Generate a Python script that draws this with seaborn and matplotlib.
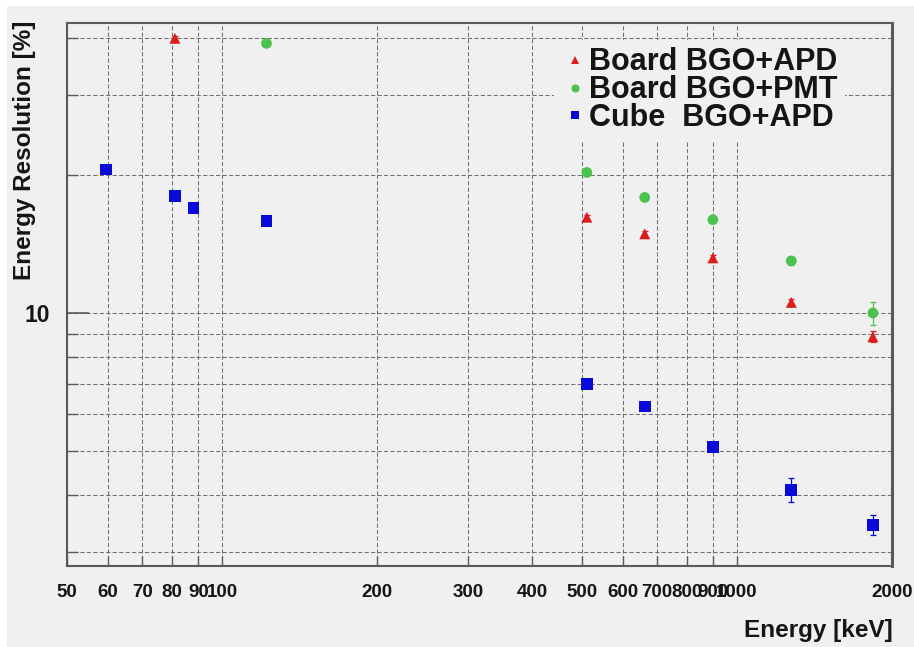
import matplotlib
matplotlib.use("Agg")
import matplotlib.pyplot as plt
import numpy as np
import pandas as pd
import seaborn as sns
from matplotlib.patches import Rectangle
from matplotlib.ticker import FixedLocator, FixedFormatter, NullFormatter

# Gamma-line energies [keV] and measured energy resolutions (FWHM) [%]
board_apd_energy = [81, 511, 662, 898, 1275, 1836]
board_apd_res = [39.9, 16.2, 14.9, 13.2, 10.55, 8.87]
board_apd_err = [0.4, 0.2, 0.2, 0.2, 0.2, 0.25]

board_pmt_energy = [122, 511, 662, 898, 1275, 1836]
board_pmt_res = [38.9, 20.3, 17.9, 16.0, 13.0, 10.0]
board_pmt_err = [0.4, 0.25, 0.2, 0.2, 0.25, 0.58]

cube_apd_energy = [59.5, 81, 88, 122, 511, 662, 898, 1275, 1836]
cube_apd_res = [20.6, 18.0, 17.0, 15.9, 6.98, 6.24, 5.09, 4.10, 3.44]
cube_apd_err = [0.2, 0.2, 0.2, 0.2, 0.1, 0.1, 0.08, 0.25, 0.17]

series_names = ["Board BGO+APD", "Board BGO+PMT", "Cube  BGO+APD"]
series_colors = ["#dd1c1c", "#4cc24c", "#0a0ad8"]
series_markers = ["^", "o", "s"]
series_sizes = [62, 60, 72]

x_tick_values = [50, 60, 70, 80, 90, 100, 200, 300, 400, 500, 600, 700, 800, 900, 1000, 2000]
x_tick_labels = ["50", "60", "70", "80", "90", "100", "200", "300", "400", "500",
                 "600", "700", "800", "900", "1000", "2000"]
y_major_values = [10]
y_major_labels = ["10"]
y_minor_values = [3, 4, 5, 6, 7, 8, 9, 20, 30, 40]

frames = []
for name, e, r, err in [
    (series_names[0], board_apd_energy, board_apd_res, board_apd_err),
    (series_names[1], board_pmt_energy, board_pmt_res, board_pmt_err),
    (series_names[2], cube_apd_energy, cube_apd_res, cube_apd_err),
]:
    frames.append(pd.DataFrame({"energy": e, "resolution": r, "error": err, "setup": name}))
df = pd.concat(frames, ignore_index=True)

sns.set_theme(style="ticks")
plt.rcParams["font.family"] = ["Liberation Sans", "DejaVu Sans"]
plt.rcParams["font.weight"] = "bold"

bg = "#f0f0f0"
frame_col = "#5a5a5a"
fig = plt.figure(figsize=(9.14, 6.47), dpi=100, facecolor=bg)
ax = fig.add_axes([67 / 914, 1 - 566 / 647, (892 - 67) / 914, (566 - 23) / 647])
ax.set_facecolor(bg)

# white strips along the left and top edges of the canvas
fig.patches.append(Rectangle((0, 0), 7 / 914, 1, transform=fig.transFigure,
                             facecolor="white", edgecolor="none", zorder=-10))
fig.patches.append(Rectangle((0, 1 - 6 / 647), 1, 6 / 647, transform=fig.transFigure,
                             facecolor="white", edgecolor="none", zorder=-10))

ax.set_xscale("log")
ax.set_yscale("log")

for name, col in zip(series_names, series_colors):
    sub = df[df["setup"] == name]
    ax.errorbar(sub["energy"], sub["resolution"], yerr=sub["error"], fmt="none",
                ecolor=col, elinewidth=0.9, capsize=2.2, capthick=0.9, zorder=3)

sns.scatterplot(data=df, x="energy", y="resolution", hue="setup", style="setup",
                hue_order=series_names, style_order=series_names,
                palette=dict(zip(series_names, series_colors)),
                markers=dict(zip(series_names, series_markers)),
                size="setup", sizes=dict(zip(series_names, series_sizes)),
                size_order=series_names,
                linewidth=0, ax=ax, zorder=4)

ax.set_xlim(50, 2000)
ax.set_ylim(2.795, 43.1)

ax.xaxis.set_major_locator(FixedLocator(x_tick_values))
ax.xaxis.set_major_formatter(FixedFormatter(x_tick_labels))
ax.xaxis.set_minor_locator(FixedLocator([]))
ax.xaxis.set_minor_formatter(NullFormatter())
ax.yaxis.set_major_locator(FixedLocator(y_major_values))
ax.yaxis.set_major_formatter(FixedFormatter(y_major_labels))
ax.yaxis.set_minor_locator(FixedLocator(y_minor_values))
ax.yaxis.set_minor_formatter(NullFormatter())

grid_kw = dict(color="#707070", linestyle=(0, (4, 2.2)), linewidth=0.75)
ax.grid(True, which="major", axis="both", **grid_kw)
ax.grid(True, which="minor", axis="y", **grid_kw)
ax.set_axisbelow(True)

ax.tick_params(axis="x", which="major", direction="in", length=7, width=1.0,
               color=frame_col, labelsize=13.5, pad=13, labelcolor="#151515")
ax.tick_params(axis="y", which="major", direction="in", length=16, width=1.2,
               color=frame_col, labelsize=16.5, pad=12, labelcolor="#151515")
ax.tick_params(axis="y", which="minor", direction="in", length=8, width=1.0,
               color=frame_col)
for lab in ax.get_xticklabels() + ax.get_yticklabels():
    lab.set_fontweight("bold")

for side in ["left", "bottom", "right", "top"]:
    ax.spines[side].set_visible(True)
    ax.spines[side].set_color(frame_col)
    ax.spines[side].set_linewidth(1.5)
ax.spines["right"].set_linewidth(2.2)

ax.set_xlabel("Energy [keV]", fontsize=17.5, fontweight="bold", color="#151515")
ax.xaxis.set_label_coords(1.001, -0.118)
ax.xaxis.label.set_horizontalalignment("right")
ax.xaxis.label.set_verticalalignment("center")

ax.set_ylabel("Energy Resolution [%]", fontsize=17.5, fontweight="bold", color="#151515")
ax.yaxis.set_label_coords(-0.051, 1.005)
ax.yaxis.label.set_rotation_mode("anchor")
ax.yaxis.label.set_horizontalalignment("right")
ax.yaxis.label.set_verticalalignment("center")

handles, labels = ax.get_legend_handles_labels()
keep = [(h, l) for h, l in zip(handles, labels) if l in series_names]
leg = ax.legend([h for h, _ in keep], [l for _, l in keep],
                loc="upper right", bbox_to_anchor=(0.943, 0.969),
                prop={"family": "Liberation Sans", "weight": "bold", "size": 22},
                frameon=True, facecolor=bg, edgecolor="none", framealpha=1.0,
                fancybox=False, borderpad=0.25, labelspacing=-0.07,
                handletextpad=0.0, handlelength=0.9, markerscale=0.75,
                borderaxespad=0)
leg.set_zorder(5)
for t in leg.get_texts():
    t.set_color("#151515")

fig.savefig("out.png", dpi=100, facecolor=bg)
